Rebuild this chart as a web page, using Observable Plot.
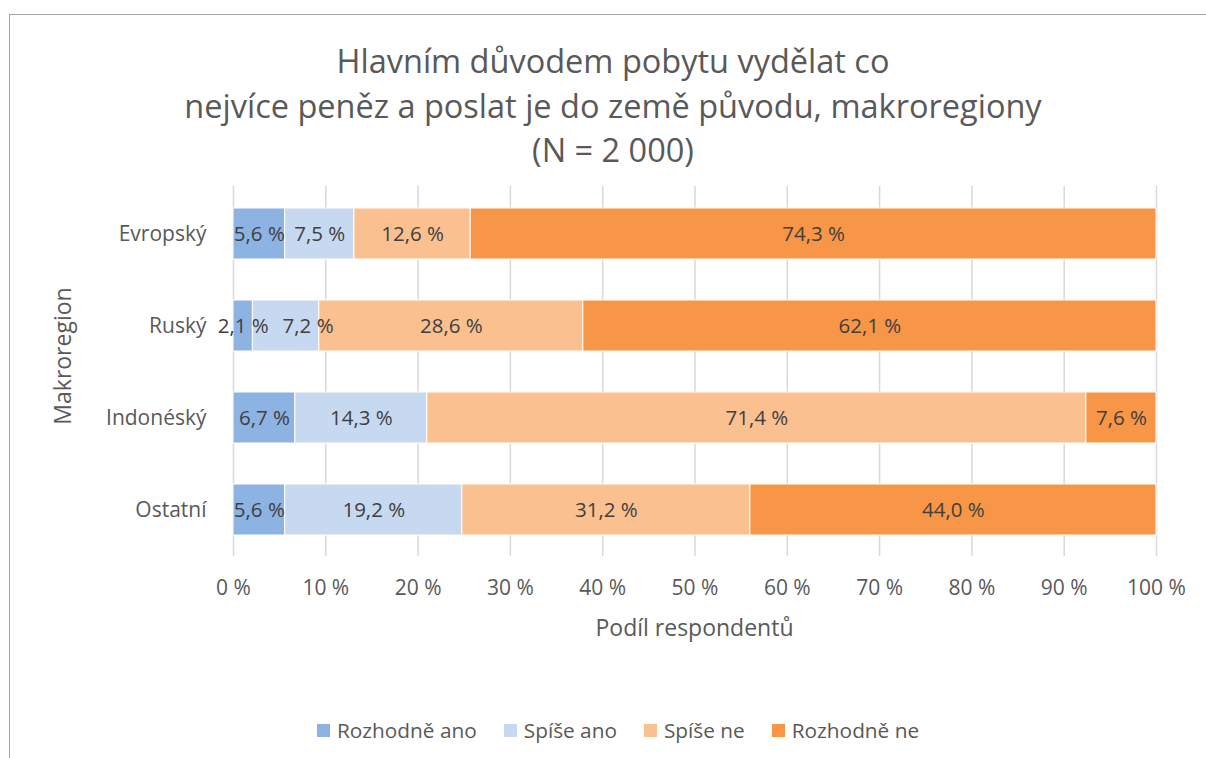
<!DOCTYPE html>
<html>
<head>
<meta charset="utf-8">
<script src="https://cdn.jsdelivr.net/npm/d3@7"></script>
<script src="https://cdn.jsdelivr.net/npm/@observablehq/plot@0.6"></script>
<style>
  html, body { margin: 0; padding: 0; background: #fff; }
  #wrap { position: relative; width: 1206px; height: 758px; overflow: hidden; font-family: "Open Sans", sans-serif; }
  #frame { position: absolute; left: 9px; top: 14px; width: 1300px; height: 900px; border: 1.5px solid #a6a6a6; box-sizing: border-box; }
  #title { position: absolute; left: 0; width: 1226px; top: 39px; text-align: center; font-size: 32.5px; line-height: 44.5px; color: #595959; }
  #chart { position: absolute; left: 0; top: 170px; }
  #xlabel { position: absolute; left: 233px; width: 923px; top: 610px; text-align: center; font-size: 23px; line-height: 34px; color: #595959; }
  #ylabel { position: absolute; left: 62px; top: 356px; transform: translate(-50%, -50%) rotate(-90deg); font-size: 23px; line-height: 34px; color: #595959; white-space: nowrap; }
  #legend { position: absolute; top: 714px; left: 317px; display: flex; align-items: center; font-size: 20.8px; line-height: 32px; color: #595959; }
  .item { display: flex; align-items: center; margin-right: 27px; white-space: nowrap; }
  .sw { width: 13px; height: 13px; margin-right: 7px; }
</style>
</head>
<body>
<div id="wrap">
  <div id="frame"></div>
  <div id="title">Hlavním důvodem pobytu vydělat co<br>nejvíce peněz a poslat je do země původu, makroregiony<br>(N = 2 000)</div>
  <div id="chart"></div>
  <div id="xlabel">Podíl respondentů</div>
  <div id="ylabel">Makroregion</div>
  <div id="legend"></div>
</div>
<script>
const regions = ["Evropský", "Ruský", "Indonéský", "Ostatní"];
const answers = ["Rozhodně ano", "Spíše ano", "Spíše ne", "Rozhodně ne"];
const colors = ["#8db3e2", "#c6d9f1", "#fac090", "#f79646"];
const rozhodneAno = [5.6, 2.1, 6.7, 5.6];
const spiseAno = [7.5, 7.2, 14.3, 19.2];
const spiseNe = [12.6, 28.6, 71.4, 31.2];
const rozhodneNe = [74.3, 62.1, 7.6, 44.0];
const xTicks = [0, 10, 20, 30, 40, 50, 60, 70, 80, 90, 100];

const series = [rozhodneAno, spiseAno, spiseNe, rozhodneNe];
const rows = [];
regions.forEach((r, i) => {
  answers.forEach((a, j) => rows.push({region: r, answer: a, value: series[j][i]}));
});
const fmt = v => v.toFixed(1).replace(".", ",") + " %";
// Excel nudges the one label that would collide with its small neighbour
const isShifted = d => d.region === "Ruský" && d.answer === "Spíše ano";

const chart = Plot.plot({
  width: 1206,
  height: 480,
  marginLeft: 233,
  marginRight: 50,
  marginTop: 16,
  marginBottom: 94,
  style: {fontFamily: "Open Sans, sans-serif", fontSize: "21px", color: "#595959", background: "transparent"},
  x: {domain: [0, 100]},
  y: {domain: regions, paddingInner: 0.45, paddingOuter: 0.225},
  color: {domain: answers, range: colors},
  marks: [
    Plot.ruleX(xTicks, {stroke: "#d9d9d9", strokeWidth: 1.5}),
    Plot.barX(rows, Plot.stackX({x: "value", y: "region", fill: "answer", stroke: "white", strokeWidth: 1})),
    Plot.text(rows, Plot.stackX({x: "value", y: "region", z: "answer", text: d => isShifted(d) ? "" : fmt(d.value), fill: "#404040", fontSize: 20.5})),
    Plot.text(rows, Plot.stackX({x: "value", y: "region", z: "answer", text: d => isShifted(d) ? fmt(d.value) : "", fill: "#404040", fontSize: 20.5, dx: 22})),
    Plot.axisX({ticks: xTicks, tickSize: 0, tickPadding: 24, tickFormat: d => d + " %", label: null, fill: "#595959", fontSize: 21}),
    Plot.axisY({tickSize: 0, tickPadding: 27, label: null, fill: "#595959", fontSize: 21})
  ]
});
document.getElementById("chart").appendChild(chart);

const legend = document.getElementById("legend");
answers.forEach((a, i) => {
  const it = document.createElement("div");
  it.className = "item";
  const sw = document.createElement("div");
  sw.className = "sw";
  sw.style.background = colors[i];
  const t = document.createElement("span");
  t.textContent = a;
  it.appendChild(sw); it.appendChild(t);
  legend.appendChild(it);
});
</script>
</body>
</html>
